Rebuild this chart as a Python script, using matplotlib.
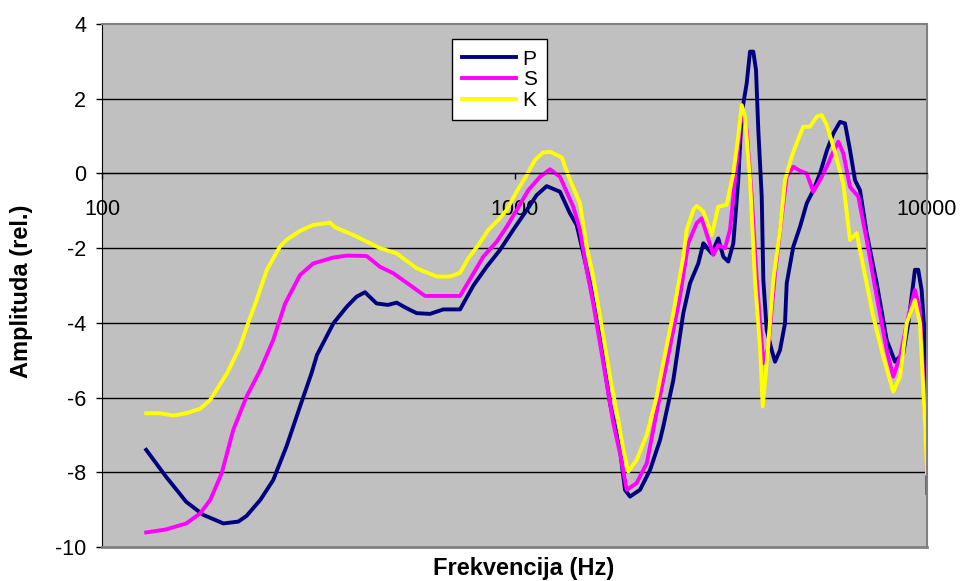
import matplotlib
matplotlib.use('Agg')
import matplotlib.pyplot as plt

plt.rcParams['font.family'] = ['Liberation Sans', 'DejaVu Sans']
plt.rcParams['axes.unicode_minus'] = False

# frequency (Hz) and amplitude (rel.)
freq_p = [128, 143, 160, 176, 197, 214, 224, 242, 260, 280, 302, 322, 332, 364, 392, 414, 434,
          463, 493, 518, 548, 579, 624, 672, 738, 795, 856, 922, 993, 1071, 1132, 1197, 1289,
          1363, 1415, 1468, 1524, 1612, 1704, 1802, 1853, 1906, 2015, 2131, 2253, 2294, 2427,
          2566, 2664, 2790, 2869, 3007, 3119, 3208, 3298, 3392, 3487, 3554, 3655, 3723, 3792,
          3850, 3900, 3975, 4011, 4087, 4203, 4281, 4402, 4527, 4570, 4741, 4922, 5110, 5302,
          5504, 5713, 5928, 6153, 6327, 6506, 6691, 6880, 7141, 7553, 7985, 8364, 8760, 9009,
          9349, 9522, 9704, 9890, 10000]
amp_p = [-7.40, -8.12, -8.79, -9.14, -9.37, -9.32, -9.17, -8.74, -8.21, -7.31, -6.24, -5.35, -4.86,
         -4.01, -3.57, -3.30, -3.18, -3.48, -3.52, -3.46, -3.61, -3.74, -3.76, -3.64, -3.64, -3.00,
         -2.50, -2.05, -1.51, -0.98, -0.58, -0.34, -0.49, -1.07, -1.38, -2.14, -2.94, -4.37, -6.15,
         -7.40, -8.47, -8.65, -8.47, -7.94, -7.14, -6.78, -5.53, -3.74, -2.94, -2.41, -1.87, -2.14,
         -1.74, -2.23, -2.36, -1.87, -0.18, 1.60, 2.41, 3.26, 3.26, 2.77, 1.16, -0.62, -2.85,
         -4.19, -4.73, -5.04, -4.73, -4.01, -2.94, -1.96, -1.43, -0.80, -0.45, 0.00, 0.60, 1.07,
         1.38, 1.34, 0.63, -0.18, -0.45, -1.60, -2.94, -4.46, -5.04, -4.81, -4.01, -2.58, -2.58,
         -3.12, -4.46, -7.40]

freq_s = [128, 143, 160, 173, 183, 195, 208, 224, 242, 260, 278, 302, 325, 364, 392, 438, 472,
          508, 558, 607, 738, 787, 840, 905, 957, 1012, 1080, 1153, 1219, 1289, 1388, 1441, 1496,
          1552, 1642, 1736, 1802, 1871, 1977, 2092, 2211, 2339, 2519, 2638, 2765, 2843, 3033,
          3119, 3238, 3330, 3457, 3554, 3655, 3758, 3866, 4011, 4124, 4281, 4443, 4570, 4741,
          4922, 5110, 5302, 5504, 5764, 5875, 6096, 6268, 6506, 6815, 7141, 7553, 7985, 8285,
          8600, 9009, 9349, 9613, 9828, 9984, 10000]
amp_s = [-9.61, -9.53, -9.37, -9.10, -8.74, -8.03, -6.87, -5.98, -5.26, -4.46, -3.48, -2.72, -2.41,
         -2.25, -2.20, -2.21, -2.50, -2.67, -2.99, -3.28, -3.28, -2.76, -2.23, -1.83, -1.43, -0.98,
         -0.45, -0.09, 0.11, -0.09, -0.89, -1.51, -2.58, -3.48, -5.08, -6.69, -7.49, -8.47, -8.29,
         -7.76, -6.40, -5.08, -3.30, -1.87, -1.33, -1.20, -2.18, -1.92, -2.00, -1.51, 0.27, 1.70,
         1.16, -0.62, -2.85, -5.08, -4.64, -2.67, -1.16, -0.09, 0.18, 0.07, 0.00, -0.49, -0.18,
         0.27, 0.49, 0.85, 0.54, -0.36, -0.62, -1.78, -3.30, -4.73, -5.44, -4.91, -3.83, -3.12,
         -3.66, -5.80, -7.58, -8.56]

freq_k = [128, 138, 149, 160, 173, 183, 201, 216, 226, 237, 251, 270, 280, 302, 325, 357, 367,
          407, 472, 518, 579, 648, 698, 738, 773, 817, 864, 913, 957, 1012, 1071, 1121, 1174,
          1219, 1301, 1363, 1441, 1496, 1552, 1612, 1704, 1785, 1836, 1888, 1977, 2092, 2211,
          2294, 2427, 2566, 2615, 2713, 2765, 2869, 3007, 3119, 3269, 3392, 3487, 3554, 3621,
          3723, 3828, 3937, 3997, 4087, 4241, 4402, 4527, 4699, 4832, 5013, 5205, 5403, 5556,
          5713, 5928, 6268, 6506, 6754, 7008, 7409, 7837, 8285, 8600, 8928, 9349, 9613, 9890,
          10000]
amp_k = [-6.42, -6.42, -6.48, -6.42, -6.30, -6.06, -5.35, -4.64, -4.01, -3.39, -2.58, -1.96, -1.78,
         -1.54, -1.38, -1.32, -1.44, -1.65, -2.00, -2.14, -2.54, -2.76, -2.76, -2.66, -2.27, -1.92,
         -1.51, -1.25, -0.98, -0.49, -0.04, 0.36, 0.56, 0.58, 0.43, -0.17, -0.80, -1.96, -2.76,
         -3.83, -5.44, -6.60, -7.40, -7.98, -7.67, -7.00, -5.98, -5.08, -3.74, -2.23, -1.51, -0.98,
         -0.87, -1.02, -1.65, -0.89, -0.84, 0.00, 0.98, 1.83, 1.52, -0.18, -2.85, -4.64, -6.24,
         -5.08, -2.85, -1.51, -0.18, 0.45, 0.81, 1.25, 1.25, 1.52, 1.56, 1.30, 0.72, -0.27, -1.78,
         -1.60, -2.50, -3.83, -4.91, -5.84, -5.44, -4.01, -3.39, -4.01, -6.69, -8.03]

series = [('P', freq_p, amp_p, '#000080'),
          ('S', freq_s, amp_s, '#FF00FF'),
          ('K', freq_k, amp_k, '#FFFF00')]

y_ticks = [4, 2, 0, -2, -4, -6, -8, -10]
x_ticks = [100, 1000, 10000]

fig = plt.figure(figsize=(9.62, 5.81), dpi=100)
ax = fig.add_axes([102 / 962, 34 / 581, 825 / 962, 523 / 581])
ax.set_facecolor('#C0C0C0')

for name, f, a, c in series:
    ax.plot(f, a, color=c, lw=2.8, label=name, solid_joinstyle='round')

ax.set_xscale('log')
ax.set_xlim(100, 10000)
ax.set_ylim(-10, 4)

# horizontal grid
for y in y_ticks[1:-1]:
    ax.axhline(y, color='black', lw=1, zorder=1)

ax.set_yticks(y_ticks)
ax.set_yticklabels([str(t) for t in y_ticks])
ax.set_xticks(x_ticks)
ax.set_xticklabels([str(t) for t in x_ticks])
ax.minorticks_off()
ax.tick_params(axis='y', direction='out', length=4.5, width=1, labelsize=15.5, pad=7)
ax.tick_params(axis='x', direction='out', length=4.5, width=1, labelsize=15.5, pad=14)

ax.spines['bottom'].set_position(('data', 0))
ax.spines['bottom'].set_color('black')
ax.spines['left'].set_color('black')
ax.spines['top'].set_color('#808080')
ax.spines['right'].set_color('#808080')
ax.spines['top'].set_linewidth(1.5)
ax.spines['right'].set_linewidth(1.5)
ax.axhline(-10, color='#808080', lw=2, clip_on=False, zorder=3)

leg = ax.legend(loc='upper left', bbox_to_anchor=(0.424, 0.9707), fontsize=15,
                frameon=True, fancybox=False, edgecolor='black', framealpha=1,
                borderaxespad=0, borderpad=0.5, handlelength=2.6, handletextpad=0.3,
                labelspacing=0.08)
leg.get_frame().set_linewidth(1)

fig.text(524 / 962, 1 - 569 / 581, 'Frekvencija (Hz)', ha='center', va='center',
         fontsize=17, fontweight='bold')
fig.text(22 / 962, 1 - 291.5 / 581, 'Amplituda (rel.)', ha='center', va='center',
         fontsize=17, fontweight='bold', rotation=90)

fig.savefig('out.png', dpi=100)
